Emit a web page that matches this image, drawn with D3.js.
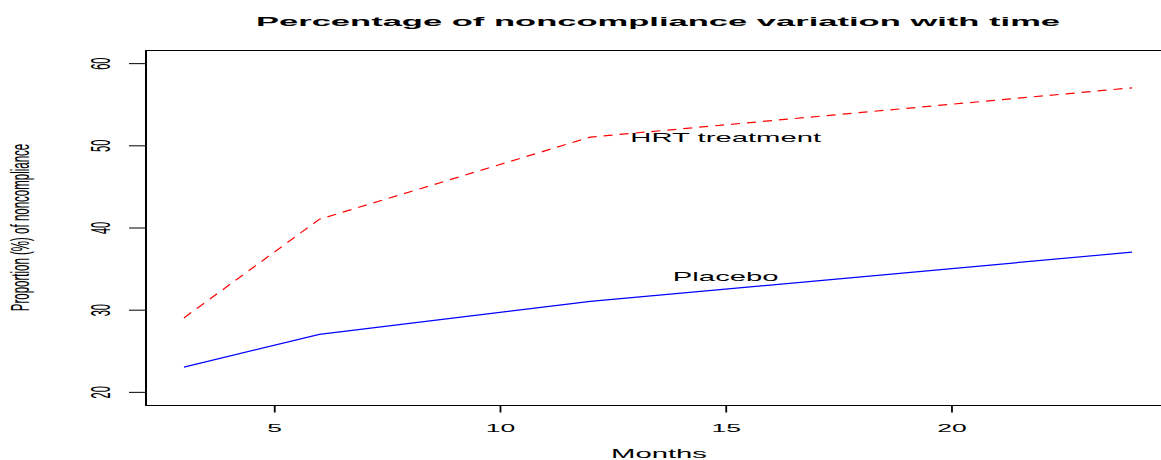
<!DOCTYPE html>
<html>
<head>
<meta charset="utf-8">
<script src="https://cdn.jsdelivr.net/npm/d3@7"></script>
<style>
  html, body { margin: 0; padding: 0; background: #ffffff; }
  svg { display: block; }
  text { font-family: "Liberation Sans", Arial, Helvetica, sans-serif; fill: #000; }
</style>
</head>
<body>
<svg id="chart" width="1161" height="460"></svg>
<script>
// Follow-up months and noncompliance proportions (%)
const months = [3, 6, 12, 24];
const placebo = [23, 27, 31, 37];
const hrt = [29, 41, 51, 57];

// Axis ticks
const xTicks = [5, 10, 15, 20];
const yTicks = [20, 30, 40, 50, 60];

// Text labels
const titleText = "Percentage of noncompliance variation with time";
const xLabel = "Months";
const yLabel = "Proportion (%) of noncompliance";
const seriesLabels = [
  { text: "HRT treatment", x: 15, y: 51 },
  { text: "Placebo", x: 15, y: 34 }
];

const W = 1161, H = 460;
const plot = { left: 146, top: 50, right: 1170, bottom: 405 };
const SX = 2.44; // horizontal glyph stretch

const svg = d3.select("#chart");
svg.append("rect").attr("width", W).attr("height", H).attr("fill", "#fff");

// Scales padded 4% past the data/axis limits
const xPad = (d3.max(months) - d3.min(months)) * 0.04;
const x = d3.scaleLinear()
  .domain([d3.min(months) - xPad, d3.max(months) + xPad])
  .range([plot.left, plot.right]);
const yPad = (60 - 20) * 0.04;
const y = d3.scaleLinear()
  .domain([20 - yPad, 60 + yPad])
  .range([plot.bottom, plot.top]);

// Plot box
const box = svg.append("g").attr("stroke", "#000").attr("fill", "none");
box.append("line").attr("x1", plot.left).attr("x2", plot.right)
  .attr("y1", plot.top + 0.5).attr("y2", plot.top + 0.5).attr("stroke-width", 1);
box.append("line").attr("x1", plot.left).attr("x2", plot.right)
  .attr("y1", plot.bottom + 0.5).attr("y2", plot.bottom + 0.5).attr("stroke-width", 1);
box.append("line").attr("x1", plot.left).attr("x2", plot.left)
  .attr("y1", plot.top).attr("y2", plot.bottom + 1).attr("stroke-width", 2);

// X axis
const xAxis = svg.append("g")
  .attr("transform", `translate(0,${plot.bottom + 0.5})`)
  .call(d3.axisBottom(x).tickValues(xTicks).tickSize(7).tickSizeOuter(0).tickFormat(d3.format("d")));
xAxis.select(".domain").remove();
xAxis.selectAll(".tick line").attr("stroke", "#000").attr("stroke-width", 1.8);
xAxis.selectAll(".tick text")
  .attr("y", 0).attr("dy", null)
  .attr("font-size", 11.5)
  .attr("transform", `translate(0,26) scale(2.3,1)`);

// Y axis
const yAxis = svg.append("g")
  .attr("transform", `translate(${plot.left},0)`)
  .call(d3.axisLeft(y).tickValues(yTicks).tickSize(17).tickSizeOuter(0).tickFormat(d3.format("d")));
yAxis.select(".domain").remove();
yAxis.append("line")
  .attr("x1", 0).attr("x2", 0)
  .attr("y1", y(d3.min(yTicks))).attr("y2", y(d3.max(yTicks)))
  .attr("stroke", "#000").attr("stroke-width", 2);
yAxis.selectAll(".tick line").attr("stroke", "#000").attr("stroke-width", 1);
yAxis.selectAll(".tick text")
  .attr("x", 0).attr("y", 0).attr("dy", null)
  .attr("text-anchor", "middle")
  .attr("font-size", 11)
  .attr("transform", `translate(-46,0) scale(2.5,1) rotate(-90) translate(0,4)`);

// Series lines
const line = d3.line()
  .x(d => x(d[0]))
  .y(d => y(d[1]));

svg.append("path")
  .datum(d3.zip(months, placebo))
  .attr("d", line)
  .attr("fill", "none")
  .attr("stroke", "#0000ff")
  .attr("stroke-width", 1.2);

svg.append("path")
  .datum(d3.zip(months, hrt))
  .attr("d", line)
  .attr("fill", "none")
  .attr("stroke", "#ff0000")
  .attr("stroke-width", 1.2)
  .attr("stroke-dasharray", "9,7");

// Series labels
svg.selectAll("text.series-label")
  .data(seriesLabels)
  .join("text")
  .attr("class", "series-label")
  .attr("text-anchor", "middle")
  .attr("font-size", 12)
  .attr("transform", d => `translate(${x(d.x)},${y(d.y) + 4.5}) scale(${SX},1)`)
  .text(d => d.text);

// Title
svg.append("text")
  .attr("text-anchor", "middle")
  .attr("font-size", 13.5)
  .attr("font-weight", "bold")
  .attr("transform", `translate(658,26) scale(2.56,1)`)
  .text(titleText);

// Axis titles
svg.append("text")
  .attr("text-anchor", "middle")
  .attr("font-size", 12)
  .attr("transform", `translate(659,458) scale(2.44,1)`)
  .text(xLabel);

svg.append("text")
  .attr("text-anchor", "middle")
  .attr("font-size", 11.5)
  .attr("transform", `translate(20,${(plot.top + plot.bottom) / 2}) scale(2.2,1) rotate(-90) translate(0,4)`)
  .text(yLabel);
</script>
</body>
</html>
